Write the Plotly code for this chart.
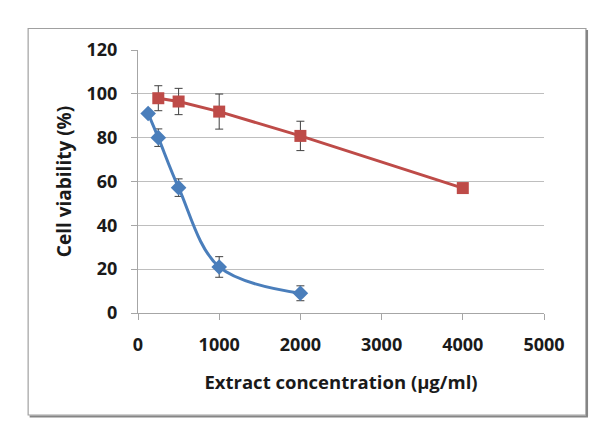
import plotly.graph_objects as go

# Data
blue_x = [125, 250, 500, 1000, 2000]
blue_y = [91, 80, 57.2, 21, 9]
blue_err = [0, 4, 4, 4.7, 3.4]

red_x = [250, 500, 1000, 2000, 4000]
red_y = [98, 96.5, 91.9, 80.8, 57]
red_err = [5.7, 6, 8, 6.7, 0]

x_ticks = [0, 1000, 2000, 3000, 4000, 5000]
y_ticks = [0, 20, 40, 60, 80, 100, 120]

FONT = "Open Sans"
TXT = "#1a1a1a"

fig = go.Figure()
fig.add_trace(go.Scatter(
    x=blue_x, y=blue_y, mode="lines+markers",
    line=dict(color="#4A7EBB", width=3, shape="spline", smoothing=1.0),
    marker=dict(symbol="diamond", size=12, color="#4A7EBB"),
    error_y=dict(type="data", array=blue_err, visible=True, color="#404040", thickness=1, width=4),
    showlegend=False,
))
fig.add_trace(go.Scatter(
    x=red_x, y=red_y, mode="lines+markers",
    line=dict(color="#BE4B48", width=3),
    marker=dict(symbol="square", size=12, color="#BE4B48"),
    error_y=dict(type="data", array=red_err, visible=True, color="#404040", thickness=1, width=4),
    showlegend=False,
))

# plot area: x 137.5..544, y 50..313 in a 610x436 page
L, R, T, B = 137.5, 544, 50, 313
W, H = R - L, B - T

def px(x):
    return (x - L) / W

def py(y):
    return (B - y) / H

shapes = [
    dict(type="rect", xref="paper", yref="paper",
         x0=px(27.5), x1=px(586), y0=py(415), y1=py(28.5),
         line=dict(color="#A0A0A0", width=1.2), layer="below"),
    dict(type="line", xref="paper", yref="paper",
         x0=px(587), x1=px(587), y0=py(416.5), y1=py(30),
         line=dict(color="#858585", width=2.2)),
    dict(type="line", xref="paper", yref="paper",
         x0=px(29), x1=px(588), y0=py(416.5), y1=py(416.5),
         line=dict(color="#858585", width=2.2)),
]

fig.update_layout(
    width=610, height=436,
    margin=dict(l=L, r=610 - R, t=T, b=436 - B),
    paper_bgcolor="white", plot_bgcolor="white",
    font=dict(family=FONT, color=TXT, size=17),
    shapes=shapes,
    xaxis=dict(
        range=[0, 5000], tickvals=x_ticks, ticktext=[str(v) for v in x_ticks],
        showgrid=False, zeroline=False, showline=True, linecolor="#A6A6A6", linewidth=1,
        ticks="outside", ticklen=6, tickcolor="#A6A6A6",
        ticklabelstandoff=9,
        tickfont=dict(family=FONT, size=18, color=TXT, weight="bold"),
        title=dict(text="<b>Extract concentration (µg/ml)</b>", font=dict(family=FONT, size=18.5, color=TXT), standoff=21),
    ),
    yaxis=dict(
        range=[0, 120], tickvals=y_ticks, ticktext=[str(v) for v in y_ticks],
        showgrid=True, gridcolor="#BEBEBE", gridwidth=1.2, zeroline=False,
        showline=True, linecolor="#A6A6A6", linewidth=1,
        ticks="outside", ticklen=6, tickcolor="#A6A6A6",
        ticklabelstandoff=10,
        tickfont=dict(family=FONT, size=18, color=TXT, weight="bold"),
        title=dict(text="<b>Cell viability (%)</b>", font=dict(family=FONT, size=19, color=TXT), standoff=9),
    ),
)

fig.write_html("out.html")
